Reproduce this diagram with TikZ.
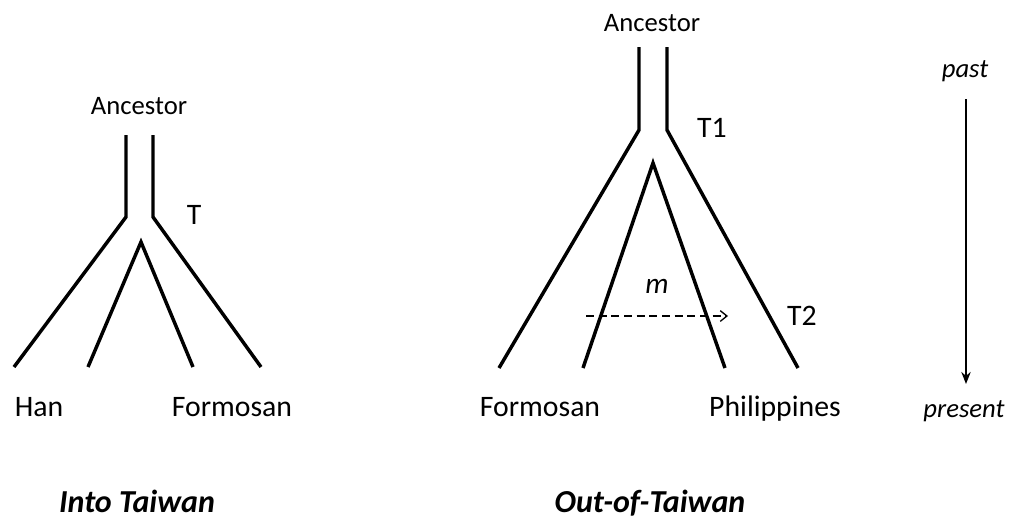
\documentclass[tikz,border=0pt]{standalone}
\usepackage{fontspec}
\setmainfont{Carlito}
\usetikzlibrary{arrows.meta}
\begin{document}
\begin{tikzpicture}[x=0.75pt,y=-0.75pt,
  branch/.style={line width=2.6pt,line cap=butt,line join=miter},
  anc/.style={font=\fontsize{20}{24}\selectfont,inner sep=0pt,anchor=base},
  lbl/.style={font=\fontsize{22.3}{26}\selectfont,inner sep=0pt,anchor=base},
  ilbl/.style={font=\fontsize{22}{26}\selectfont\itshape,inner sep=0pt,anchor=base},
  tlbl/.style={font=\fontsize{20}{24}\selectfont\itshape,inner sep=0pt,anchor=base},
  title/.style={font=\fontsize{24}{28}\selectfont\bfseries\itshape,inner sep=0pt,anchor=base},
  timearrow/.style={line width=1.5pt,-{Stealth[length=9pt,width=7pt]}},
  migr/.style={line width=1pt,dash pattern=on 6pt off 3.5pt,-{Straight Barb[length=5pt,width=8pt]}}]
\useasboundingbox[fill=white] (0,0) rectangle (1013,525);
% ---- Into Taiwan ----
\node[anc] (ancL) at (139,114) {Ancestor};
\coordinate (lvt) at (126,135); \coordinate (lvb) at (126,217);
\coordinate (rvt) at (153,135); \coordinate (rvb) at (153,217);
\coordinate (lo) at (14,367); \coordinate (ro) at (261,367);
\coordinate (apL) at (141,242);
\coordinate (li) at (88,367); \coordinate (ri) at (193,367);
\draw[branch] (lvt) -- (lvb) -- (lo);
\draw[branch] (rvt) -- (rvb) -- (ro);
\draw[branch] (li) -- (apL) -- (ri);
\node[lbl] (T) at (194,224) {T};
\node[lbl] (han) at (39,416) {Han};
\node[lbl] (forL) at (232,416) {Formosan};
\node[title] (into) at (137,512) {Into Taiwan};
% ---- Out-of-Taiwan ----
\node[anc] (ancR) at (652,31) {Ancestor};
\coordinate (Lvt) at (639,47); \coordinate (Lvb) at (639,130);
\coordinate (Rvt) at (667,47); \coordinate (Rvb) at (667,130);
\coordinate (Lo) at (499,368); \coordinate (Ro) at (798,368);
\coordinate (apR) at (653,163);
\coordinate (Li) at (583,368); \coordinate (Ri) at (725,368);
\draw[branch] (Lvt) -- (Lvb) -- (Lo);
\draw[branch] (Rvt) -- (Rvb) -- (Ro);
\draw[branch] (Li) -- (apR) -- (Ri);
\node[lbl] (T1) at (712,137) {T1};
\node[lbl] (T2) at (802,325) {T2};
\node[ilbl] (m) at (657,293) {m};
\coordinate (ms) at (586,316); \coordinate (me) at (728,316);
\draw[migr] (ms) -- (me);
\node[lbl] (forR) at (540,416) {Formosan};
\node[lbl] (phil) at (775,416) {Philippines};
\node[title] (out) at (650,512) {Out-of-Taiwan};
% ---- time axis ----
\node[tlbl] (past) at (965,77) {past};
\node[tlbl] (pres) at (964,417) {present};
\coordinate (ta) at (966,99); \coordinate (tb) at (966,384);
\draw[timearrow] (ta) -- (tb);
\end{tikzpicture}
\end{document}
